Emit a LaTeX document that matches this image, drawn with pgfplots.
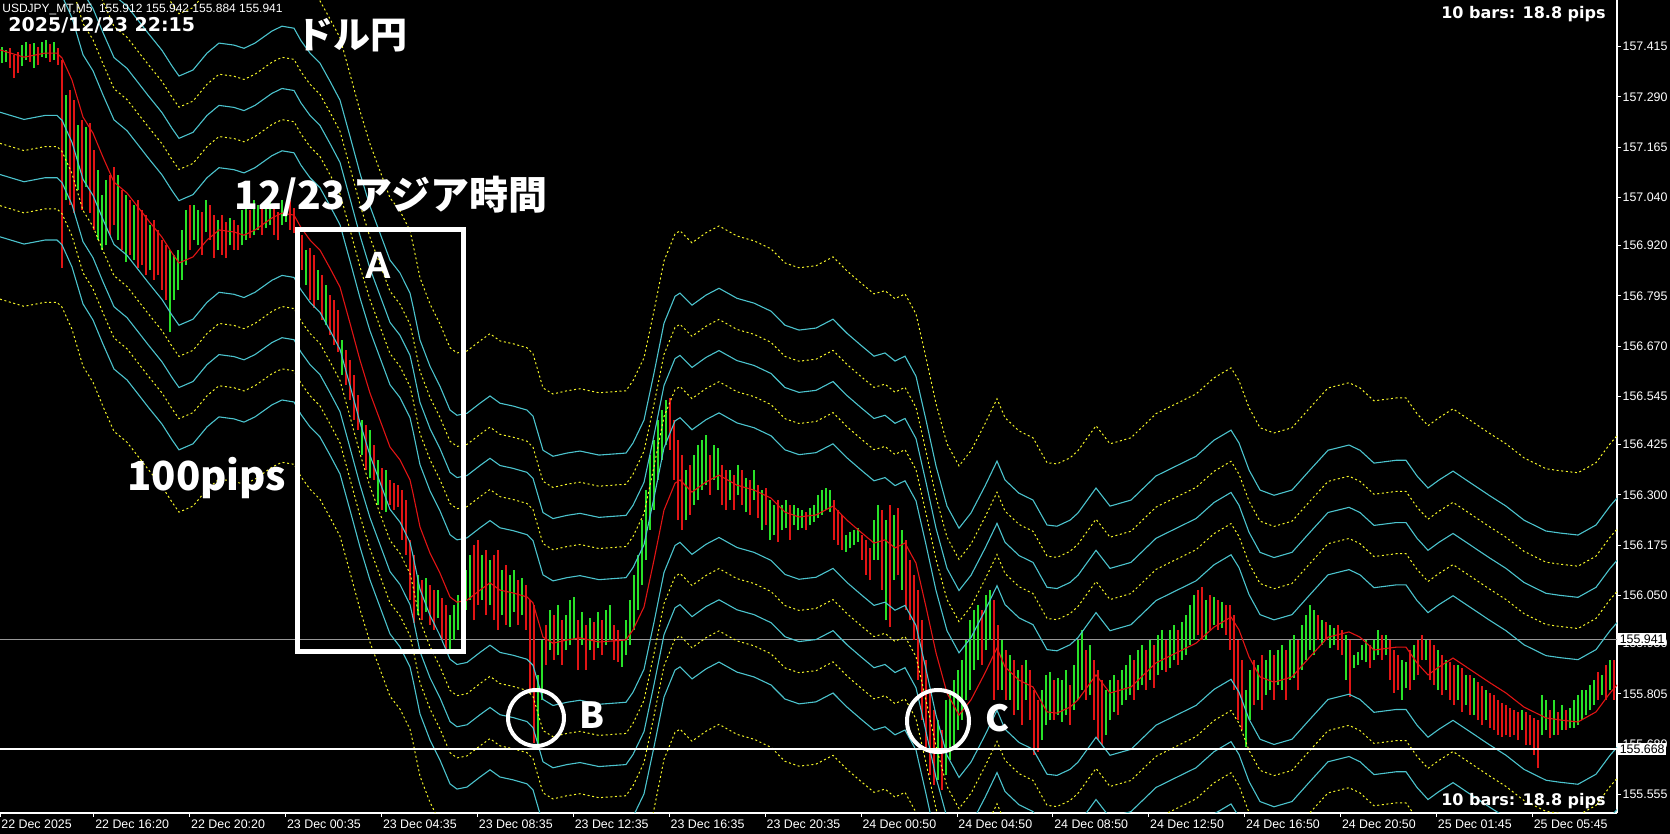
\documentclass[border=0pt]{standalone}
\usepackage{fontspec}
\setmainfont{Liberation Sans}
\newfontfamily\dvs{DejaVu Sans}
\newfontfamily\cjk{Noto Sans CJK JP}
\usepackage{pgfplots}
\usepackage{pgfplotstable}
\pgfplotsset{compat=1.18}
\definecolor{mtgreen}{RGB}{40,225,40}
\definecolor{mtred}{RGB}{225,20,20}
\definecolor{band}{RGB}{75,195,205}
\definecolor{yel}{RGB}{245,245,40}

% moving average (centre of the envelopes)
\pgfplotstableread{
x y
0 157.407
12 157.389
22.5 157.399
28.5 157.399
31 157.387
36 157.332
41.5 157.240
46.5 157.200
51.5 157.140
57 157.078
63.5 157.051
69 157.016
74 156.984
81 156.941
86 156.902
89.5 156.877
96.5 156.892
103.5 156.934
109.5 156.959
117 156.954
122 156.946
127.5 156.959
136 156.989
141 157.001
147 156.996
150.5 156.965
155 156.934
160 156.909
165 156.864
170 156.817
175 156.727
180 156.635
185 156.553
190 156.486
195 156.419
200 156.387
205 156.337
206.5 156.304
210 156.220
215 156.155
220 156.105
225 156.046
228.5 156.033
233.5 156.038
240 156.063
245 156.081
250 156.063
256.5 156.056
263.5 156.046
266.5 156.031
271.5 155.946
276.5 155.931
283.5 155.939
290 155.944
299.5 155.934
313 155.939
316.5 155.964
322 156.021
327 156.138
332 156.262
337.5 156.329
340 156.337
346 156.307
353 156.332
359.5 156.349
368.5 156.324
377 156.312
385.5 156.292
392.5 156.257
399.5 156.245
408 156.250
416.5 156.272
423.5 156.237
430.5 156.207
437 156.180
442.5 156.188
447.5 156.168
452.5 156.180
458 156.130
463 156.021
468 155.907
473.5 155.807
479.5 155.752
485.5 155.790
492.5 155.857
498.5 155.919
502.5 155.872
509.5 155.839
516.5 155.822
523.5 155.760
528.5 155.757
535 155.772
539 155.790
548 155.852
555 155.807
565.5 155.822
578 155.882
589 155.909
598 155.931
607 155.971
615.5 155.996
619.5 155.964
624.5 155.897
630 155.847
637 155.834
646 155.847
655 155.897
664 155.946
674.5 155.959
680 155.946
687 155.914
698 155.921
703 155.921
708.5 155.882
714 155.852
719.5 155.872
726.5 155.894
735.5 155.864
744.5 155.834
753 155.807
762 155.772
773 155.745
780 155.740
789 155.735
798 155.760
805 155.807
808.5 155.827
}\ma

% up bars (high, low)
\pgfplotstableread{
x hi lo
1 157.414 157.374
3 157.407 157.377
11 157.419 157.367
13 157.427 157.382
17 157.424 157.362
21 157.427 157.389
23 157.431 157.387
27 157.427 157.382
33 157.295 157.033
39 157.220 157.058
43 157.215 157.066
49 157.108 156.934
51 157.046 156.909
53 157.083 156.921
59 157.096 156.934
63 157.046 156.879
67 157.021 156.884
75 156.971 156.859
85 156.909 156.705
87 156.897 156.785
89 156.909 156.810
91 156.959 156.834
93 157.009 156.872
97 157.021 156.934
99 157.009 156.921
103 157.033 156.954
109 156.984 156.909
115 156.989 156.921
121 157.009 156.921
123 157.021 156.934
127 157.033 156.946
129 157.021 156.959
133 157.033 156.964
135 157.038 156.971
141 157.033 156.971
143 157.021 156.979
153 156.909 156.822
159 156.859 156.785
163 156.822 156.722
171 156.685 156.598
181 156.486 156.399
185 156.461 156.342
189 156.387 156.275
193 156.362 156.257
209 156.101 156.001
213 156.093 156.008
219 156.063 155.993
225 156.001 155.914
227 156.026 155.939
229 156.051 155.964
233 156.113 156.013
235 156.150 156.038
241 156.150 156.038
245 156.138 156.026
251 156.113 156.001
255 156.101 155.971
257 156.113 156.008
261 156.093 156.001
269 155.852 155.677
271 155.939 155.790
275 156.013 155.914
279 156.026 155.901
283 156.001 155.914
285 156.038 155.926
287 156.046 155.939
291 156.008 155.926
295 155.993 155.914
299 156.008 155.919
303 156.013 155.926
305 156.026 155.939
311 155.939 155.872
313 155.988 155.901
315 156.038 155.926
317 156.101 155.964
319 156.150 156.013
321 156.237 156.076
323 156.312 156.138
325 156.399 156.212
327 156.436 156.262
329 156.486 156.337
331 156.511 156.387
333 156.536 156.424
343 156.362 156.237
347 156.399 156.275
349 156.424 156.287
351 156.436 156.312
353 156.449 156.324
357 156.424 156.337
359 156.416 156.312
365 156.362 156.287
369 156.374 156.300
373 156.342 156.257
377 156.362 156.287
381 156.312 156.212
385 156.287 156.188
387 156.275 156.200
391 156.275 156.212
393 156.287 156.217
397 156.275 156.225
399 156.267 156.212
401 156.262 156.217
405 156.267 156.225
407 156.275 156.232
409 156.300 156.242
411 156.312 156.250
413 156.317 156.262
415 156.312 156.257
423 156.200 156.158
425 156.207 156.168
427 156.212 156.175
429 156.217 156.183
437 156.237 156.138
439 156.275 156.138
443 156.237 155.988
447 156.250 156.088
451 156.212 156.063
469 155.740 155.590
473 155.790 155.603
475 155.814 155.640
477 155.839 155.677
479 155.864 155.715
481 155.889 155.740
483 155.939 155.790
485 155.988 155.814
487 156.013 155.864
489 156.026 155.889
493 156.051 155.914
495 156.063 155.939
501 155.939 155.814
505 155.901 155.790
509 155.864 155.765
513 155.889 155.790
521 155.814 155.690
523 155.852 155.727
525 155.859 155.740
529 155.844 155.752
531 155.839 155.735
533 155.864 155.752
537 155.877 155.765
539 155.939 155.790
541 155.964 155.814
545 155.926 155.802
553 155.814 155.702
555 155.839 155.740
557 155.852 155.760
561 155.864 155.777
563 155.877 155.790
565 155.901 155.802
569 155.914 155.814
571 155.926 155.827
575 155.939 155.839
579 155.951 155.852
581 155.964 155.864
585 155.964 155.869
587 155.976 155.889
591 155.983 155.889
593 156.001 155.901
595 156.026 155.926
597 156.051 155.939
603 156.038 155.939
607 156.046 155.976
611 156.033 155.969
623 155.814 155.672
625 155.864 155.740
629 155.877 155.790
633 155.889 155.802
635 155.914 155.814
639 155.914 155.827
641 155.926 155.814
645 155.939 155.839
647 155.951 155.844
651 155.976 155.864
653 156.001 155.889
655 156.026 155.914
657 156.013 155.901
661 155.988 155.926
665 155.976 155.919
667 155.969 155.926
673 155.951 155.839
677 155.901 155.869
679 155.909 155.877
681 155.926 155.889
683 155.939 155.884
687 155.939 155.889
689 155.964 155.901
693 155.951 155.901
701 155.889 155.790
703 155.884 155.819
707 155.926 155.839
713 155.939 155.889
719 155.914 155.814
723 155.889 155.814
729 155.877 155.790
733 155.852 155.777
737 155.844 155.752
743 155.814 155.740
761 155.765 155.715
771 155.802 155.702
773 155.790 155.715
777 155.790 155.702
781 155.777 155.715
785 155.770 155.720
787 155.790 155.720
789 155.802 155.727
791 155.814 155.740
793 155.814 155.752
795 155.827 155.765
797 155.839 155.777
801 155.852 155.802
805 155.889 155.814
}\upbars

% down bars (high, low)
\pgfplotstableread{
x hi lo
5 157.412 157.362
7 157.394 157.337
9 157.402 157.349
15 157.422 157.377
19 157.414 157.369
25 157.422 157.377
29 157.412 157.369
31 157.382 156.864
35 157.307 157.021
37 157.282 157.001
41 157.233 157.009
45 157.225 157.001
47 157.158 156.959
55 157.096 156.946
57 157.116 156.971
61 157.058 156.909
65 157.033 156.897
69 157.033 156.864
71 157.009 156.872
73 156.996 156.847
77 156.984 156.834
79 156.959 156.847
81 156.934 156.810
83 156.921 156.785
95 157.021 156.909
101 157.004 156.897
105 157.021 156.934
107 156.996 156.889
111 156.996 156.897
113 156.979 156.889
117 156.984 156.909
119 156.971 156.909
125 157.009 156.939
131 157.014 156.946
137 157.021 156.946
139 157.004 156.934
145 157.033 156.959
147 157.014 156.951
149 156.959 156.879
151 156.946 156.859
155 156.914 156.785
157 156.897 156.765
161 156.847 156.735
165 156.797 156.698
167 156.785 156.673
169 156.760 156.655
173 156.660 156.573
175 156.635 156.536
177 156.598 156.486
179 156.548 156.461
183 156.474 156.362
187 156.424 156.337
191 156.367 156.262
195 156.337 156.275
197 156.329 156.262
199 156.324 156.270
201 156.312 156.188
203 156.287 156.150
205 156.188 156.038
207 156.150 155.981
211 156.088 155.988
215 156.076 155.976
217 156.063 155.964
221 156.043 155.939
223 156.026 155.914
231 156.138 156.013
237 156.175 155.988
239 156.188 156.026
243 156.163 156.001
247 156.150 155.988
249 156.163 155.964
253 156.125 155.976
259 156.088 155.976
263 156.076 155.964
265 156.038 155.814
267 156.026 155.682
273 155.976 155.877
277 156.001 155.889
281 155.988 155.877
289 155.988 155.864
293 155.976 155.864
297 155.983 155.889
301 155.988 155.901
307 155.976 155.889
309 155.964 155.884
335 156.541 156.411
337 156.486 156.337
339 156.436 156.237
341 156.399 156.212
345 156.374 156.250
355 156.399 156.300
361 156.374 156.275
363 156.362 156.262
367 156.349 156.262
371 156.362 156.275
375 156.337 156.250
379 156.324 156.242
383 156.317 156.225
389 156.287 156.183
395 156.275 156.188
403 156.257 156.212
417 156.287 156.188
419 156.262 156.175
421 156.250 156.163
431 156.200 156.138
433 156.188 156.101
435 156.168 156.088
441 156.262 156.063
445 156.275 155.971
449 156.267 156.101
453 156.188 156.013
455 156.138 155.988
457 156.101 155.939
459 156.063 155.839
461 155.988 155.740
463 155.889 155.665
465 155.814 155.603
467 155.765 155.578
471 155.715 155.566
491 156.013 155.877
497 156.038 155.790
499 155.976 155.814
503 155.914 155.790
507 155.889 155.752
511 155.877 155.727
515 155.864 155.740
517 155.814 155.653
519 155.790 155.660
527 155.839 155.740
535 155.827 155.727
543 155.914 155.790
547 155.889 155.740
549 155.864 155.690
551 155.839 155.677
559 155.839 155.752
567 155.889 155.790
573 155.914 155.814
577 155.926 155.819
583 155.939 155.859
589 155.964 155.877
599 156.063 155.951
601 156.071 155.939
605 156.051 155.964
609 156.038 155.964
613 156.026 155.951
615 156.026 155.914
617 156.001 155.814
619 155.939 155.740
621 155.889 155.715
627 155.889 155.777
631 155.901 155.765
637 155.901 155.790
643 155.914 155.790
649 155.939 155.814
659 156.001 155.939
663 155.983 155.939
669 155.976 155.914
671 155.964 155.901
675 155.939 155.797
685 155.926 155.869
691 155.951 155.889
695 155.939 155.839
697 155.914 155.807
699 155.901 155.814
705 155.914 155.814
709 155.939 155.852
711 155.951 155.889
715 155.939 155.839
717 155.926 155.827
721 155.901 155.802
725 155.884 155.790
727 155.877 155.777
731 155.869 155.760
735 155.852 155.752
739 155.834 155.740
741 155.824 155.727
745 155.807 155.720
747 155.802 155.715
749 155.790 155.702
751 155.782 155.697
753 155.777 155.702
755 155.770 155.697
757 155.765 155.702
759 155.760 155.690
763 155.760 155.677
765 155.752 155.677
767 155.745 155.653
769 155.740 155.620
775 155.765 155.695
779 155.760 155.702
783 155.765 155.715
799 155.859 155.790
803 155.877 155.790
807 155.889 155.790
}\downbars

\begin{document}
\begin{tikzpicture}
\useasboundingbox (0,-10.5pt) rectangle (835pt,406.5pt);
\fill[black] (0,-10.5pt) rectangle (835pt,406.5pt);
\begin{axis}[
  at={(0,0)}, anchor=south west,
  width=808.5pt, height=406.5pt, scale only axis,
  xmin=0, xmax=808.5, ymin=155.5085, ymax=157.5312,
  axis x line*=bottom, axis y line*=right,
  axis line style={draw=white, line width=0.6pt, -},
  clip mode=individual,
  tick align=outside, major tick length=2pt,
  tick style={white, line width=0.5pt},
  xtick={0,46.95,94.9,142.85,190.8,238.75,286.7,334.65,382.6,430.55,478.5,526.45,574.4,622.35,670.3,718.25,766.2},
  xticklabels={22 Dec 2025,22 Dec 16:20,22 Dec 20:20,23 Dec 00:35,23 Dec 04:35,23 Dec 08:35,23 Dec 12:35,23 Dec 16:35,23 Dec 20:35,24 Dec 00:50,24 Dec 04:50,24 Dec 08:50,24 Dec 12:50,24 Dec 16:50,24 Dec 20:50,25 Dec 01:45,25 Dec 05:45},
  ytick={155.555,155.680,155.805,155.930,156.050,156.175,156.300,156.425,156.545,156.670,156.795,156.920,157.040,157.165,157.290,157.415},
  yticklabels={155.555,155.680,155.805,155.930,156.050,156.175,156.300,156.425,156.545,156.670,156.795,156.920,157.040,157.165,157.290,157.415},
  xticklabel style={anchor=north west, inner sep=0pt, xshift=0.5pt, yshift=-1pt},
  yticklabel style={anchor=west, inner sep=0pt, xshift=0.6pt},
  tick label style={font=\fontsize{6.2}{7}\selectfont, text=white},
]
% current price line
\draw[gray!80, line width=0.5pt] (axis cs:0,155.941) -- (axis cs:808.5,155.941);

% bars
\addplot[draw=none, mark=none, error bars/.cd, y dir=plus, y explicit, error mark=none,
  error bar style={draw=mtgreen, line width=0.9pt, solid}]
  table[x=x, y=lo, y error plus expr=\thisrow{hi}-\thisrow{lo}] {\upbars};
\addplot[draw=none, mark=none, error bars/.cd, y dir=plus, y explicit, error mark=none,
  error bar style={draw=mtred, line width=0.9pt, solid}]
  table[x=x, y=lo, y error plus expr=\thisrow{hi}-\thisrow{lo}] {\downbars};

% envelopes around the moving average
\foreach \o in {0.155,0.310,0.465,-0.155,-0.310,-0.465}{
  \addplot[band, line width=0.55pt] table[x=x, y expr=\thisrow{y}+\o] {\ma};
}
\foreach \o in {0.2325,0.3875,0.620,-0.2325,-0.3875,-0.620}{
  \addplot[yel, line width=0.5pt, dash pattern=on 1pt off 1.3pt] table[x=x, y expr=\thisrow{y}+\o] {\ma};
}
\addplot[mtred, line width=0.55pt] table[x=x, y=y] {\ma};

% support line
\draw[white, line width=1.2pt] (axis cs:0,155.668) -- (axis cs:808.5,155.668);

% price labels on the scale
\node[fill=white, text=black, anchor=west, inner xsep=0.7pt, inner ysep=0.9pt, font=\fontsize{6.2}{7}\selectfont] at (axis cs:808.5,155.941) [xshift=0.5pt] {155.941};
\node[fill=white, text=black, anchor=west, inner xsep=0.7pt, inner ysep=0.9pt, font=\fontsize{6.2}{7}\selectfont] at (axis cs:808.5,155.668) [xshift=0.5pt] {155.668};
\end{axis}

% annotations (1 px = 0.5 pt, origin at lower left of plot area)
\node[anchor=west, inner sep=0pt, text=white, font=\fontsize{6}{7}\selectfont] at (1pt,401.5pt) {USDJPY\_MT,M5\ \ 155.912 155.942 155.884 155.941};
\node[anchor=west, inner sep=0pt, text=white, font=\dvs\bfseries\fontsize{9.5}{11}\selectfont] at (4pt,394pt) {2025/12/23 22:15};
\node[anchor=east, inner sep=0pt, text=white, font=\dvs\bfseries\fontsize{8}{9}\selectfont] at (803pt,399.5pt) {10 bars: 18.8 pips};
\node[anchor=east, inner sep=0pt, text=white, font=\dvs\bfseries\fontsize{8}{9}\selectfont] at (803pt,6pt) {10 bars: 18.8 pips};
\node[inner sep=0pt, text=white, font=\cjk\bfseries\fontsize{18.5}{20}\selectfont] at (176pt,388.75pt) {ドル円};
\node[inner sep=0pt, text=white, font=\cjk\bfseries\fontsize{19.5}{21}\selectfont] at (195.5pt,308.5pt) {12/23 アジア時間};
\node[anchor=base west, inner sep=0pt, text=white, font=\cjk\bfseries\fontsize{20}{22}\selectfont] at (63.5pt,161pt) {100pips};
\draw[white, line width=2.5pt] (148.5pt,291.5pt) rectangle (231.5pt,80.5pt);
\node[inner sep=0pt, text=white, font=\bfseries\fontsize{19}{21}\selectfont] at (189pt,274pt) {A};
\draw[white, line width=2pt] (268pt,47.5pt) circle (14pt);
\draw[white, line width=2pt] (469pt,46pt) circle (15.5pt);
\node[inner sep=0pt, text=white, font=\cjk\bfseries\fontsize{18}{20}\selectfont] at (296pt,49pt) {B};
\node[inner sep=0pt, text=white, font=\cjk\bfseries\fontsize{18}{20}\selectfont] at (498.5pt,47.5pt) {C};
\end{tikzpicture}
\end{document}
